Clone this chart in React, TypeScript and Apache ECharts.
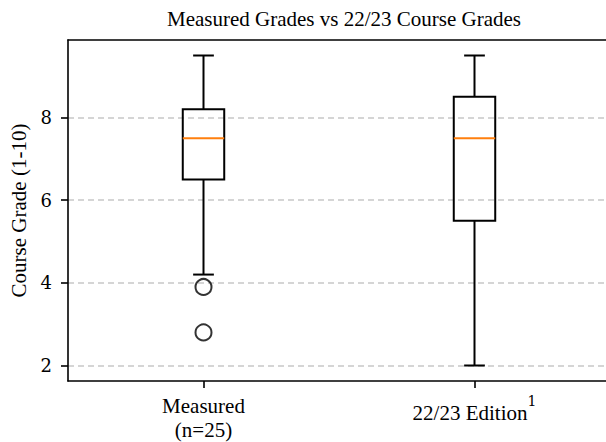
import React, { useEffect, useRef } from "react";
import * as echarts from "echarts";

const categories = ["Measured\n(n=25)", "22/23 Edition"];
// [low whisker, Q1, median, Q3, high whisker]
const boxStats = [
  [4.2, 6.5, 7.5, 8.2, 9.5],
  [2.0, 5.5, 7.5, 8.5, 9.5],
];
const outliers = [
  [0, 3.9],
  [0, 2.8],
];
const yTicks = [2, 4, 6, 8];

const FONT = "'Liberation Serif', 'Times New Roman', serif";
const NUMFONT = "'DejaVu Serif', serif";

export default function App() {
  const ref = useRef<HTMLDivElement>(null);
  useEffect(() => {
    if (!ref.current) return;
    const chart = echarts.init(ref.current, undefined, { renderer: "svg" });
    const boxData = boxStats.map((s, i) => [i, ...s]);
    chart.setOption({
      animation: false,
      backgroundColor: "#fff",
      title: {
        text: "Measured Grades vs 22/23 Course Grades",
        left: 339,
        textAlign: "center",
        top: 3,
        textStyle: { fontFamily: FONT, fontSize: 21, fontWeight: "normal", color: "#000" },
      },
      grid: {
        left: 68,
        right: 4,
        top: 40,
        bottom: 61,
        show: false,
      },
      xAxis: [
        {
          type: "category",
          data: categories,
          boundaryGap: true,
          axisLine: { show: true, lineStyle: { color: "#000", width: 1.6 } },
          axisTick: { show: true, interval: 0, alignWithLabel: true, length: 7, lineStyle: { color: "#000", width: 1.6 } },
          axisLabel: {
            interval: 0,
            margin: 13,
            color: "#000",
            fontFamily: FONT,
            fontSize: 21,
            lineHeight: 24,
            formatter: (v: string, i: number) =>
              i === 1 ? "{m|" + v + "}{sup|1}" : v,
            rich: {
              m: { fontFamily: FONT, fontSize: 21, lineHeight: 37, color: "#000" },
              sup: { fontFamily: NUMFONT, fontSize: 14, lineHeight: 16, verticalAlign: "top", color: "#000" },
            },
          },
          splitLine: { show: false },
        },
        {
          type: "category",
          position: "top",
          data: categories,
          boundaryGap: true,
          axisLine: { show: true, onZero: false, lineStyle: { color: "#000", width: 1.6 } },
          axisTick: { show: false },
          axisLabel: { show: false },
          splitLine: { show: false },
        },
      ],
      yAxis: {
        type: "value",
        min: 1.625,
        max: 9.875,
        name: "Course Grade (1-10)",
        nameLocation: "middle",
        nameGap: 36,
        nameTextStyle: { fontFamily: FONT, fontSize: 21, color: "#000" },
        axisLine: { show: true, lineStyle: { color: "#000", width: 1.6 } },
        axisTick: { show: true, length: 7, customValues: yTicks, lineStyle: { color: "#000", width: 1.6 } },
        axisLabel: {
          customValues: yTicks,
          margin: 16,
          color: "#000",
          fontFamily: NUMFONT,
          fontSize: 18,
        },
        splitLine: {
          show: true,
          lineStyle: { color: "#c8c8c8", width: 1.5, type: [6, 4] },
        },
      },
      series: [
        {
          type: "custom",
          xAxisIndex: 0,
          data: boxData,
          encode: { x: 0, y: [1, 2, 3, 4, 5] },
          renderItem: (params: any, api: any) => {
            const x = api.value(0);
            const band = api.size([1, 0])[0];
            const w = band * 0.153;
            const cw = w / 2;
            const pLow = api.coord([x, api.value(1)]);
            const pQ1 = api.coord([x, api.value(2)]);
            const pMed = api.coord([x, api.value(3)]);
            const pQ3 = api.coord([x, api.value(4)]);
            const pHigh = api.coord([x, api.value(5)]);
            const cx = pLow[0];
            const ls = { stroke: "#000", lineWidth: 2, fill: "none" };
            return {
              type: "group",
              children: [
                { type: "line", shape: { x1: cx, y1: pLow[1], x2: cx, y2: pQ1[1] }, style: ls },
                { type: "line", shape: { x1: cx, y1: pQ3[1], x2: cx, y2: pHigh[1] }, style: ls },
                { type: "line", shape: { x1: cx - cw / 2, y1: pLow[1], x2: cx + cw / 2, y2: pLow[1] }, style: ls },
                { type: "line", shape: { x1: cx - cw / 2, y1: pHigh[1], x2: cx + cw / 2, y2: pHigh[1] }, style: ls },
                {
                  type: "rect",
                  shape: { x: cx - w / 2, y: pQ3[1], width: w, height: pQ1[1] - pQ3[1] },
                  style: ls,
                },
                {
                  type: "line",
                  shape: { x1: cx - w / 2, y1: pMed[1], x2: cx + w / 2, y2: pMed[1] },
                  style: { stroke: "#ff7f0e", lineWidth: 2 },
                },
              ],
            };
          },
        },
        {
          type: "scatter",
          xAxisIndex: 0,
          data: outliers,
          symbol: "circle",
          symbolSize: 16,
          itemStyle: { color: "rgba(0,0,0,0)", borderColor: "#000", borderWidth: 2 },
        },
      ],
    });
    return () => chart.dispose();
  }, []);
  return (
    <div style={{ position: "absolute", left: 0, top: 0, width: 606, height: 442, overflow: "hidden", background: "#fff" }}>
      <div ref={ref} style={{ width: 614, height: 442 }} />
    </div>
  );
}
